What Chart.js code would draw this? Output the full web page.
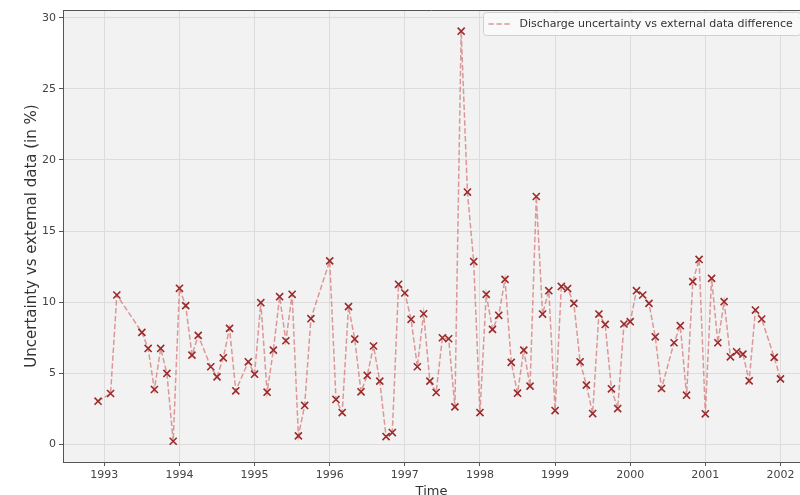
<!DOCTYPE html>
<html>
<head>
<meta charset="utf-8">
<script src="https://cdn.jsdelivr.net/npm/chart.js@4.4.0/dist/chart.umd.min.js"></script>
<style>
  html, body { margin: 0; padding: 0; background: #fff; overflow: hidden; }
  #chart { display: block; }
</style>
</head>
<body>
<canvas id="chart" width="800" height="500"></canvas>
<script>
// months of the series (YYYY-MM) and the values
var months = [
  '1992-12', '1993-02', '1993-03', '1993-07', '1993-08', '1993-09', '1993-10', '1993-11', '1993-12',
  '1994-01', '1994-02', '1994-03', '1994-04', '1994-06', '1994-07', '1994-08', '1994-09', '1994-10', '1994-12',
  '1995-01', '1995-02', '1995-03', '1995-04', '1995-05', '1995-06', '1995-07', '1995-08', '1995-09', '1995-10',
  '1996-01', '1996-02', '1996-03', '1996-04', '1996-05', '1996-06', '1996-07', '1996-08', '1996-09', '1996-10', '1996-11', '1996-12',
  '1997-01', '1997-02', '1997-03', '1997-04', '1997-05', '1997-06', '1997-07', '1997-08', '1997-09', '1997-10', '1997-11', '1997-12',
  '1998-01', '1998-02', '1998-03', '1998-04', '1998-05', '1998-06', '1998-07', '1998-08', '1998-09', '1998-10', '1998-11', '1998-12',
  '1999-01', '1999-02', '1999-03', '1999-04', '1999-05', '1999-06', '1999-07', '1999-08', '1999-09', '1999-10', '1999-11', '1999-12',
  '2000-01', '2000-02', '2000-03', '2000-04', '2000-05', '2000-06', '2000-08', '2000-09', '2000-10', '2000-11', '2000-12',
  '2001-01', '2001-02', '2001-03', '2001-04', '2001-05', '2001-06', '2001-07', '2001-08', '2001-09', '2001-10', '2001-12',
  '2002-01'
];
var uncertainty = [
  3.03, 3.57, 10.5, 7.87, 6.74, 3.85, 6.74, 4.98, 0.21,
  10.97, 9.75, 6.27, 7.66, 5.45, 4.74, 6.08, 8.15, 3.76, 5.80,
  4.93, 9.96, 3.66, 6.62, 10.38, 7.28, 10.55, 0.59, 2.73, 8.83,
  12.9, 3.15, 2.23, 9.68, 7.40, 3.69, 4.84, 6.91, 4.44, 0.54, 0.82, 11.25,
  10.64, 8.79, 5.45, 9.18, 4.44, 3.64, 7.49, 7.42, 2.63, 29.06, 17.74, 12.85,
  2.23, 10.55, 8.08, 9.07, 11.6, 5.76, 3.59, 6.62, 4.09, 17.43, 9.16, 10.8,
  2.37, 11.1, 10.95, 9.91, 5.80, 4.16, 2.16, 9.16, 8.43, 3.90, 2.51, 8.46,
  8.62, 10.8, 10.5, 9.91, 7.56, 3.92, 7.14, 8.34, 3.45, 11.44, 13.0,
  2.14, 11.67, 7.14, 10.03, 6.15, 6.50, 6.34, 4.46, 9.44, 8.81, 6.11,
  4.60
];
var yearTicks = [1993, 1994, 1995, 1996, 1997, 1998, 1999, 2000, 2001, 2002];
var valueTicks = [0, 5, 10, 15, 20, 25, 30];
var seriesLabel = 'Discharge uncertainty vs external data difference';

// month string -> decimal year for the linear x axis
function toYear(s) {
  var p = s.split('-');
  return parseInt(p[0], 10) + (parseInt(p[1], 10) - 1) / 12;
}

var points = months.map(function (m, i) {
  return { x: toYear(m), y: uncertainty[i] };
});

var FONT = 'DejaVu Sans';
var lineColor = 'rgba(205, 92, 92, 0.6)';
var spineColor = '#555';

// grey plot face, top spine and the in-plot legend
var plotDecor = {
  id: 'plotDecor',
  beforeDraw: function (chart) {
    var a = chart.chartArea, ctx = chart.ctx;
    ctx.save();
    ctx.fillStyle = '#f2f2f2';
    ctx.fillRect(a.left, a.top, a.right - a.left, a.bottom - a.top);
    ctx.restore();
  },
  afterDraw: function (chart) {
    var a = chart.chartArea, ctx = chart.ctx;
    ctx.save();
    ctx.strokeStyle = spineColor;
    ctx.lineWidth = 1;
    ctx.beginPath();
    ctx.moveTo(a.left, a.top + 0.5);
    ctx.lineTo(a.right, a.top + 0.5);
    ctx.stroke();

    // legend box
    ctx.font = '11px ' + FONT;
    var tw = ctx.measureText(seriesLabel).width;
    var bx = 483.5, by = 12.5, bh = 23;
    var bw = 36 + tw + 8;
    ctx.fillStyle = 'rgba(250,250,250,0.85)';
    ctx.strokeStyle = '#d0d0d0';
    ctx.beginPath();
    ctx.roundRect(bx, by, bw, bh, 3);
    ctx.fill();
    ctx.stroke();
    ctx.strokeStyle = lineColor;
    ctx.lineWidth = 1.5;
    ctx.setLineDash([5.5, 2.4]);
    ctx.beginPath();
    ctx.moveTo(bx + 5, by + bh / 2);
    ctx.lineTo(bx + 27, by + bh / 2);
    ctx.stroke();
    ctx.setLineDash([]);
    ctx.fillStyle = '#333';
    ctx.textBaseline = 'middle';
    ctx.fillText(seriesLabel, bx + 36, by + bh / 2 + 0.5);
    ctx.restore();
  }
};

var ctx = document.getElementById('chart').getContext('2d');
var lineChart = new Chart(ctx, {
  type: 'line',
  data: {
    datasets: [{
      label: seriesLabel,
      data: points,
      borderColor: lineColor,
      borderWidth: 1.5,
      borderDash: [5.5, 2.4],
      pointStyle: 'crossRot',
      pointRadius: 5,
      pointBorderWidth: 1.6,
      pointBorderColor: '#9b2a2a',
      pointBackgroundColor: '#9b2a2a',
      tension: 0,
      fill: false
    }]
  },
  options: {
    responsive: false,
    animation: false,
    layout: { autoPadding: false, padding: { top: 10, left: 0, right: 0, bottom: 0 } },
    plugins: {
      legend: { display: false },
      tooltip: { enabled: false }
    },
    scales: {
      x: {
        type: 'linear',
        min: 1992.45,
        max: 2002.26,
        afterBuildTicks: function (scale) {
          scale.ticks = yearTicks.map(function (v) { return { value: v }; });
        },
        afterFit: function (scale) {
          scale.height = 38;
          scale.paddingLeft = 0;
          scale.paddingRight = 0;
        },
        ticks: {
          font: { family: FONT, size: 11 },
          color: '#444',
          padding: 3,
          maxRotation: 0,
          callback: function (v) { return String(v); }
        },
        grid: { color: '#dcdcdc', tickColor: spineColor, tickLength: 4 },
        border: { color: spineColor, width: 1 },
        title: {
          display: true,
          text: 'Time',
          font: { family: FONT, size: 13 },
          color: '#333',
          padding: { top: 0, bottom: 1 }
        }
      },
      y: {
        min: -1.25,
        max: 30.55,
        afterBuildTicks: function (scale) {
          scale.ticks = valueTicks.map(function (v) { return { value: v }; });
        },
        afterFit: function (scale) { scale.width = 63; },
        ticks: {
          font: { family: FONT, size: 11 },
          color: '#444',
          padding: 3
        },
        grid: { color: '#dcdcdc', tickColor: spineColor, tickLength: 4 },
        border: { color: spineColor, width: 1 },
        title: {
          display: true,
          text: 'Uncertainty vs external data (in %)',
          font: { family: FONT, size: 15 },
          color: '#333',
          padding: { top: 23, bottom: 0 }
        }
      }
    }
  },
  plugins: [plotDecor]
});
</script>
</body>
</html>
